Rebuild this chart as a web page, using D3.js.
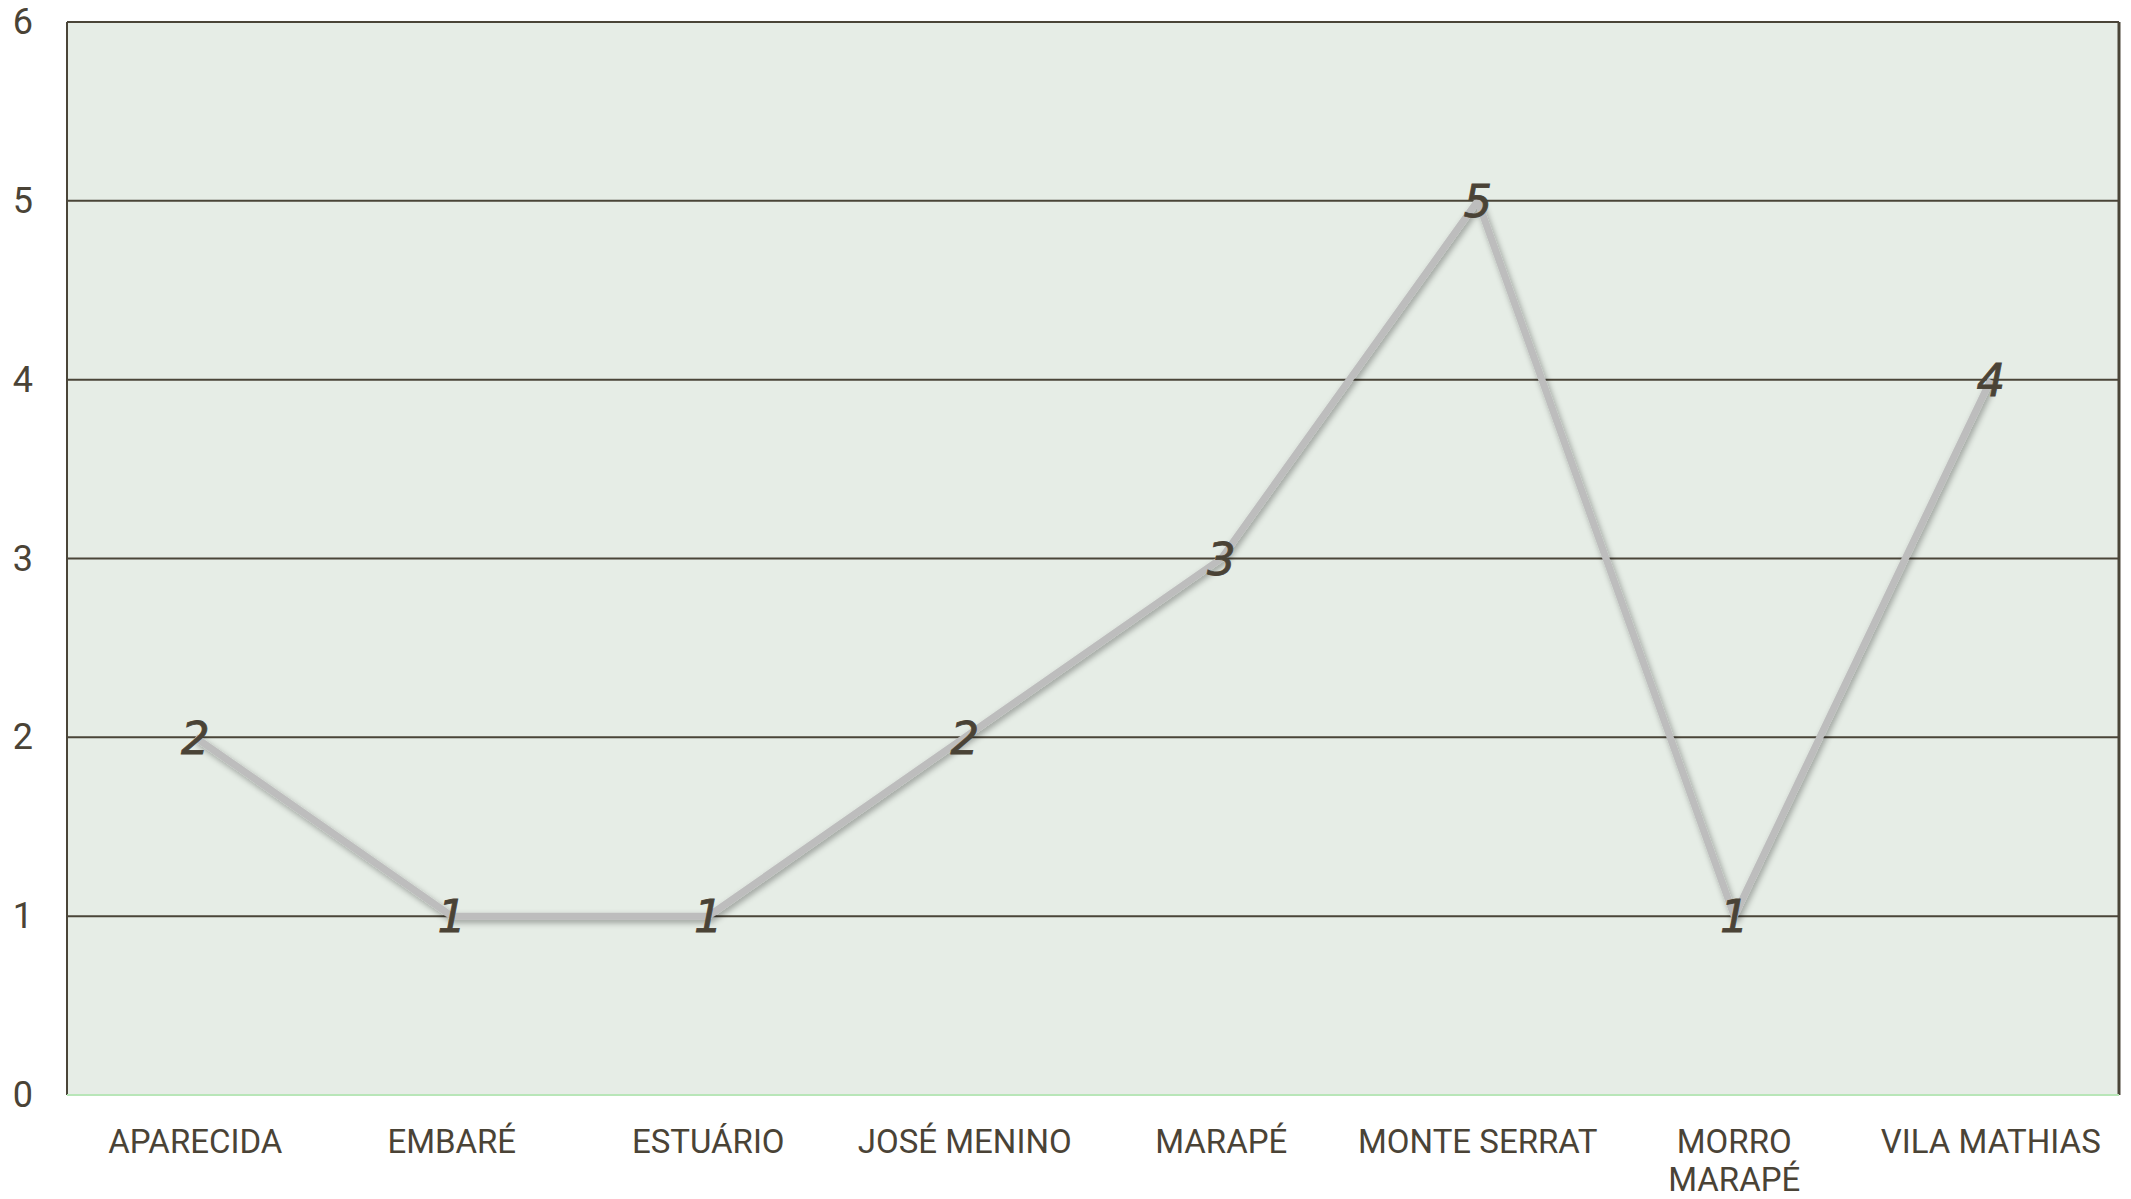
<!DOCTYPE html>
<html>
<head>
<meta charset="utf-8">
<script src="https://cdn.jsdelivr.net/npm/d3@7"></script>
<style>
  html, body { margin: 0; padding: 0; background: #fff; }
  svg { display: block; }
</style>
</head>
<body>
<div id="chart"></div>
<script>
// bairros e quantidades
const categories = ['APARECIDA', 'EMBARÉ', 'ESTUÁRIO', 'JOSÉ MENINO', 'MARAPÉ', 'MONTE SERRAT', 'MORRO MARAPÉ', 'VILA MATHIAS'];
const values = [2, 1, 1, 2, 3, 5, 1, 4];
const yTicks = [0, 1, 2, 3, 4, 5, 6];

const W = 2131, H = 1199;
const margin = { top: 22, right: 12, bottom: 104, left: 67 };
const width = W - margin.left - margin.right;
const height = H - margin.top - margin.bottom;
const textColor = '#4a4336';
const font = 'Roboto, "Liberation Sans", sans-serif';

const svg = d3.select('#chart').append('svg')
  .attr('width', W)
  .attr('height', H);

const defs = svg.append('defs');
const f = defs.append('filter').attr('id', 'shadow')
  .attr('x', '-10%').attr('y', '-10%').attr('width', '120%').attr('height', '120%');
f.append('feGaussianBlur').attr('in', 'SourceAlpha').attr('stdDeviation', 3).attr('result', 'b');
f.append('feOffset').attr('in', 'b').attr('dx', 2).attr('dy', 3).attr('result', 'o');
f.append('feComponentTransfer').attr('in', 'o').attr('result', 'o2')
  .append('feFuncA').attr('type', 'linear').attr('slope', 0.35);
const m = f.append('feMerge');
m.append('feMergeNode').attr('in', 'o2');
m.append('feMergeNode').attr('in', 'SourceGraphic');

const g = svg.append('g').attr('transform', `translate(${margin.left},${margin.top})`);

const x = d3.scaleBand().domain(categories).range([0, width]);
const y = d3.scaleLinear().domain([0, 6]).range([height, 0]);

// fundo
g.append('rect')
  .attr('width', width).attr('height', height)
  .attr('fill', '#e6ede6');

// grade
g.append('g')
  .selectAll('line')
  .data(yTicks.filter(d => d > 0))
  .enter().append('line')
  .attr('x1', 0).attr('x2', width)
  .attr('y1', d => y(d)).attr('y2', d => y(d))
  .attr('stroke', '#4a4538').attr('stroke-width', 2);

// bordas
g.append('line').attr('x1', 0).attr('x2', 0).attr('y1', 0).attr('y2', height)
  .attr('stroke', '#4a4538').attr('stroke-width', 2);
g.append('line').attr('x1', width).attr('x2', width).attr('y1', 0).attr('y2', height)
  .attr('stroke', '#4a4538').attr('stroke-width', 3);
g.append('line').attr('x1', 0).attr('x2', width).attr('y1', height).attr('y2', height)
  .attr('stroke', '#b8e6b8').attr('stroke-width', 2);

// eixo y
const yAxis = g.append('g')
  .call(d3.axisLeft(y).tickValues(yTicks).tickSize(0).tickPadding(34).tickFormat(d3.format('d')));
yAxis.select('.domain').remove();
yAxis.selectAll('text')
  .attr('fill', textColor)
  .style('font-family', font)
  .style('font-size', '36px');

// eixo x
const xAxis = g.append('g')
  .attr('transform', `translate(0,${height})`)
  .call(d3.axisBottom(x).tickSize(0).tickPadding(0));
xAxis.select('.domain').remove();
xAxis.selectAll('text').remove();
xAxis.selectAll('.tick').each(function (d) {
  const t = d3.select(this).append('text')
    .attr('fill', textColor)
    .attr('text-anchor', 'middle')
    .style('font-family', font)
    .style('font-size', '33px');
  t.append('tspan').attr('x', 0).attr('y', 58).text(d);
  // quebra o rótulo quando não cabe na faixa
  if (t.node().getComputedTextLength() > x.bandwidth() * 0.95) {
    t.selectAll('tspan').remove();
    d.split(' ').forEach((w, i) => {
      t.append('tspan').attr('x', 0).attr('y', 58 + i * 38).text(w);
    });
  }
});

// linha
const line = d3.line()
  .x((d, i) => x(categories[i]) + x.bandwidth() / 2)
  .y(d => y(d));

g.append('path')
  .datum(values)
  .attr('d', line)
  .attr('fill', 'none')
  .attr('stroke', '#bdbdbd')
  .attr('stroke-width', 7)
  .attr('stroke-linejoin', 'round')
  .attr('filter', 'url(#shadow)');

// rótulos
g.append('g')
  .selectAll('text')
  .data(values)
  .enter().append('text')
  .attr('x', (d, i) => x(categories[i]) + x.bandwidth() / 2)
  .attr('y', d => y(d))
  .attr('dy', '0.36em')
  .attr('text-anchor', 'middle')
  .attr('fill', textColor)
  .attr('stroke', textColor)
  .attr('stroke-width', 0.8)
  .style('font-family', '"DejaVu Sans", sans-serif')
  .style('font-style', 'oblique')
  .style('font-size', '45px')
  .text(d => d);
</script>
</body>
</html>
